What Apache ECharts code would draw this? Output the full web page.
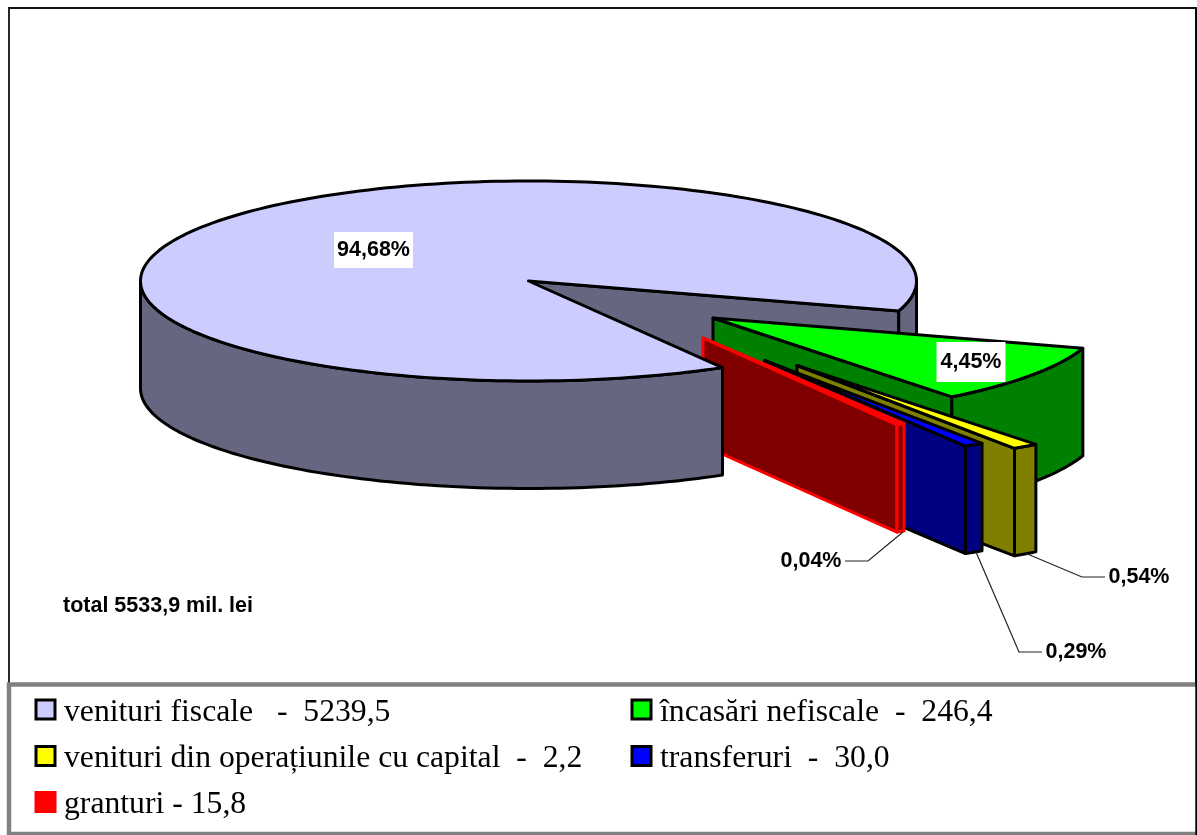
<!DOCTYPE html>
<html>
<head>
<meta charset="utf-8">
<script src="https://cdn.jsdelivr.net/npm/echarts@6/dist/echarts.min.js"></script>
<style>html,body{margin:0;padding:0;background:#fff}#c{width:1197px;height:835px}</style>
</head>
<body>
<div id="c"></div>
<script>
// ---- data ----
const categories = ['încasări nefiscale', 'venituri din operațiunile cu capital', 'transferuri', 'granturi', 'venituri fiscale'];
const legendLabels = ['încasări nefiscale  -  246,4', 'venituri din operațiunile cu capital  -  2,2', 'transferuri  -  30,0', 'granturi - 15,8', 'venituri fiscale   -  5239,5'];
const amounts = [246.4, 2.2, 30.0, 15.8, 5239.5];
const percentLabels = ['4,45%', '0,54%', '0,29%', '0,04%', '94,68%'];
// the sweep each slice is actually drawn with in the reference (degrees, clockwise)
const drawnSweep = [34.4, 3.9, 2.9, 1.2, 317.4];
const firstSliceAngle = 17.6;
const totalNote = 'total 5533,9 mil. lei';

// ---- layout and style ----
const pie = { cx: 528.5, cy: 281, rx: 388, ry: 100, depth: 107.5 };
const apexOffset = [[184.5, 37], [268.5, 84.5], [236, 79.5], [174.5, 57], [0, 0]];
const topColor = ['#00FF00', '#FFFF00', '#0000FF', '#FF0000', '#CCCCFF'];
const sideColor = ['#008000', '#808000', '#000080', '#800000', '#666680'];
const edgeColor = ['#000', '#000', '#000', '#FF0000', '#000'];
const labelPos = [[971, 362], null, null, null, [373.5, 250]];
const sideLabels = [
  null,
  { at: [1139, 577], line: [[1025, 553], [1082, 577], [1105, 577]] },
  { at: [1076, 652], line: [[976, 552], [1019, 652], [1042, 652]] },
  { at: [811, 561], line: [[903, 532], [868, 561], [845, 561]] },
  null
];
const legendPos = [
  [630.5, 696.5], [34.5, 743], [630.5, 743], [34.5, 789], [34.5, 696.5]
];

const rad = d => d * Math.PI / 180;
function arc(cx, cy, a0, a1) {
  const n = Math.max(2, Math.ceil(Math.abs(a1 - a0) / 1.5)), p = [];
  for (let i = 0; i <= n; i++) {
    const a = rad(a0 + (a1 - a0) * i / n);
    p.push([cx + pie.rx * Math.cos(a), cy + pie.ry * Math.sin(a)]);
  }
  return p;
}
function poly(points, fill, stroke, w) {
  return { type: 'polygon', shape: { points }, style: { fill, stroke, lineWidth: w, lineJoin: 'round' } };
}
function side(cx, cy, a0, a1, fill, stroke, w) {
  const t = arc(cx, cy, a0, a1), b = arc(cx, cy + pie.depth, a1, a0);
  return poly(t.concat(b), fill, stroke, w);
}
const labelFont = 'bold 21.5px "Liberation Sans", Arial, sans-serif';

function makeRender(i, layer) {
  return function (params, api) {
    const start = api.value(0), sweep = api.value(1), end = start + sweep;
    const cx = pie.cx + apexOffset[i][0], cy = pie.cy + apexOffset[i][1];
    const top = topColor[i], dark = sideColor[i], edge = edgeColor[i];
    const w = 3, kids = [];
    if (layer === 'back') {
      // main slice: the cut face behind the gap and the outer wall right of it
      const e = arc(cx, cy, end, end)[0];
      kids.push(poly([[cx, cy], e, [e[0], e[1] + pie.depth], [cx, cy + pie.depth]], dark, edge, w));
      kids.push(side(cx, cy, 360, end, dark, edge, w));
    } else if (layer === 'front') {
      kids.push(side(cx, cy, start, 180, dark, edge, w));
      kids.push(poly([[cx, cy]].concat(arc(cx, cy, start, end)), top, edge, w));
    } else {
      const e = arc(cx, cy, end, end)[0];
      kids.push(poly([[cx, cy], e, [e[0], e[1] + pie.depth], [cx, cy + pie.depth]], dark, edge, w));
      kids.push(side(cx, cy, start, end, dark, edge, w));
      kids.push(poly([[cx, cy]].concat(arc(cx, cy, start, end)), top, edge, w));
    }
    if (layer !== 'back') {
      if (labelPos[i]) {
        kids.push({ type: 'text', style: {
          text: percentLabels[i], x: labelPos[i][0], y: labelPos[i][1],
          align: 'center', verticalAlign: 'middle', font: labelFont, fill: '#000',
          backgroundColor: '#fff', padding: i === 0 ? [9, 4, 9, 4] : [7, 3, 7, 3]
        } });
      }
      if (sideLabels[i]) {
        kids.push({ type: 'polyline', shape: { points: sideLabels[i].line }, style: { fill: 'none', stroke: '#222', lineWidth: 1.2 } });
        kids.push({ type: 'text', style: {
          text: percentLabels[i], x: sideLabels[i].at[0], y: sideLabels[i].at[1],
          align: 'center', verticalAlign: 'middle', font: labelFont, fill: '#000'
        } });
      }
    }
    return { type: 'group', children: kids };
  };
}

let angle = firstSliceAngle;
const starts = drawnSweep.map(s => { const a = angle; angle += s; return a; });
const series = [];
function addSeries(i, layer, z) {
  series.push({
    type: 'custom', name: legendLabels[i], coordinateSystem: 'none', z,
    animation: false, silent: true,
    itemStyle: { color: topColor[i], borderColor: edgeColor[i], borderWidth: 3 },
    data: [{ name: categories[i], value: [starts[i], drawnSweep[i], amounts[i]] }],
    renderItem: makeRender(i, layer)
  });
}
addSeries(4, 'back', 2);
addSeries(0, 'slice', 3);
addSeries(1, 'slice', 4);
addSeries(2, 'slice', 5);
addSeries(3, 'slice', 6);
addSeries(4, 'front', 7);

const legendFont = { fontFamily: '"Liberation Serif", "Times New Roman", serif', fontSize: 31.7, color: '#000' };
const legends = legendLabels.map((name, i) => ({
  left: legendPos[i][0], top: legendPos[i][1], padding: 0,
  orient: 'horizontal', selectedMode: false, icon: 'rect',
  itemWidth: 19, itemHeight: 19, data: [name],
  itemStyle: { color: topColor[i], borderColor: edgeColor[i], borderWidth: 3 },
  formatter: n => '{t|' + n + '}',
  textStyle: Object.assign({}, legendFont, { rich: { t: Object.assign({}, legendFont, { padding: [6, 0, 0, 4] }) } })
}));

const chart = echarts.init(document.getElementById('c'), null, { renderer: 'canvas' });
chart.setOption({
  animation: false,
  backgroundColor: '#fff',
  legend: legends,
  graphic: [
    { type: 'rect', z: 0, shape: { x: 9, y: 8, width: 1187, height: 690 }, style: { fill: '#fff', stroke: '#111', lineWidth: 1.8 } },
    { type: 'rect', z: 0, shape: { x: 9, y: 684.5, width: 1200, height: 149.5 }, style: { fill: '#fff', stroke: '#808080', lineWidth: 4.5 } },
    { type: 'line', z: 1, shape: { x1: 1196.2, y1: 8, x2: 1196.2, y2: 835 }, style: { stroke: '#000', lineWidth: 1.8 } },
    { type: 'text', z: 8, style: { text: totalNote, x: 63, y: 606, verticalAlign: 'middle', font: labelFont, fill: '#000' } }
  ],
  series
});
</script>
</body>
</html>
